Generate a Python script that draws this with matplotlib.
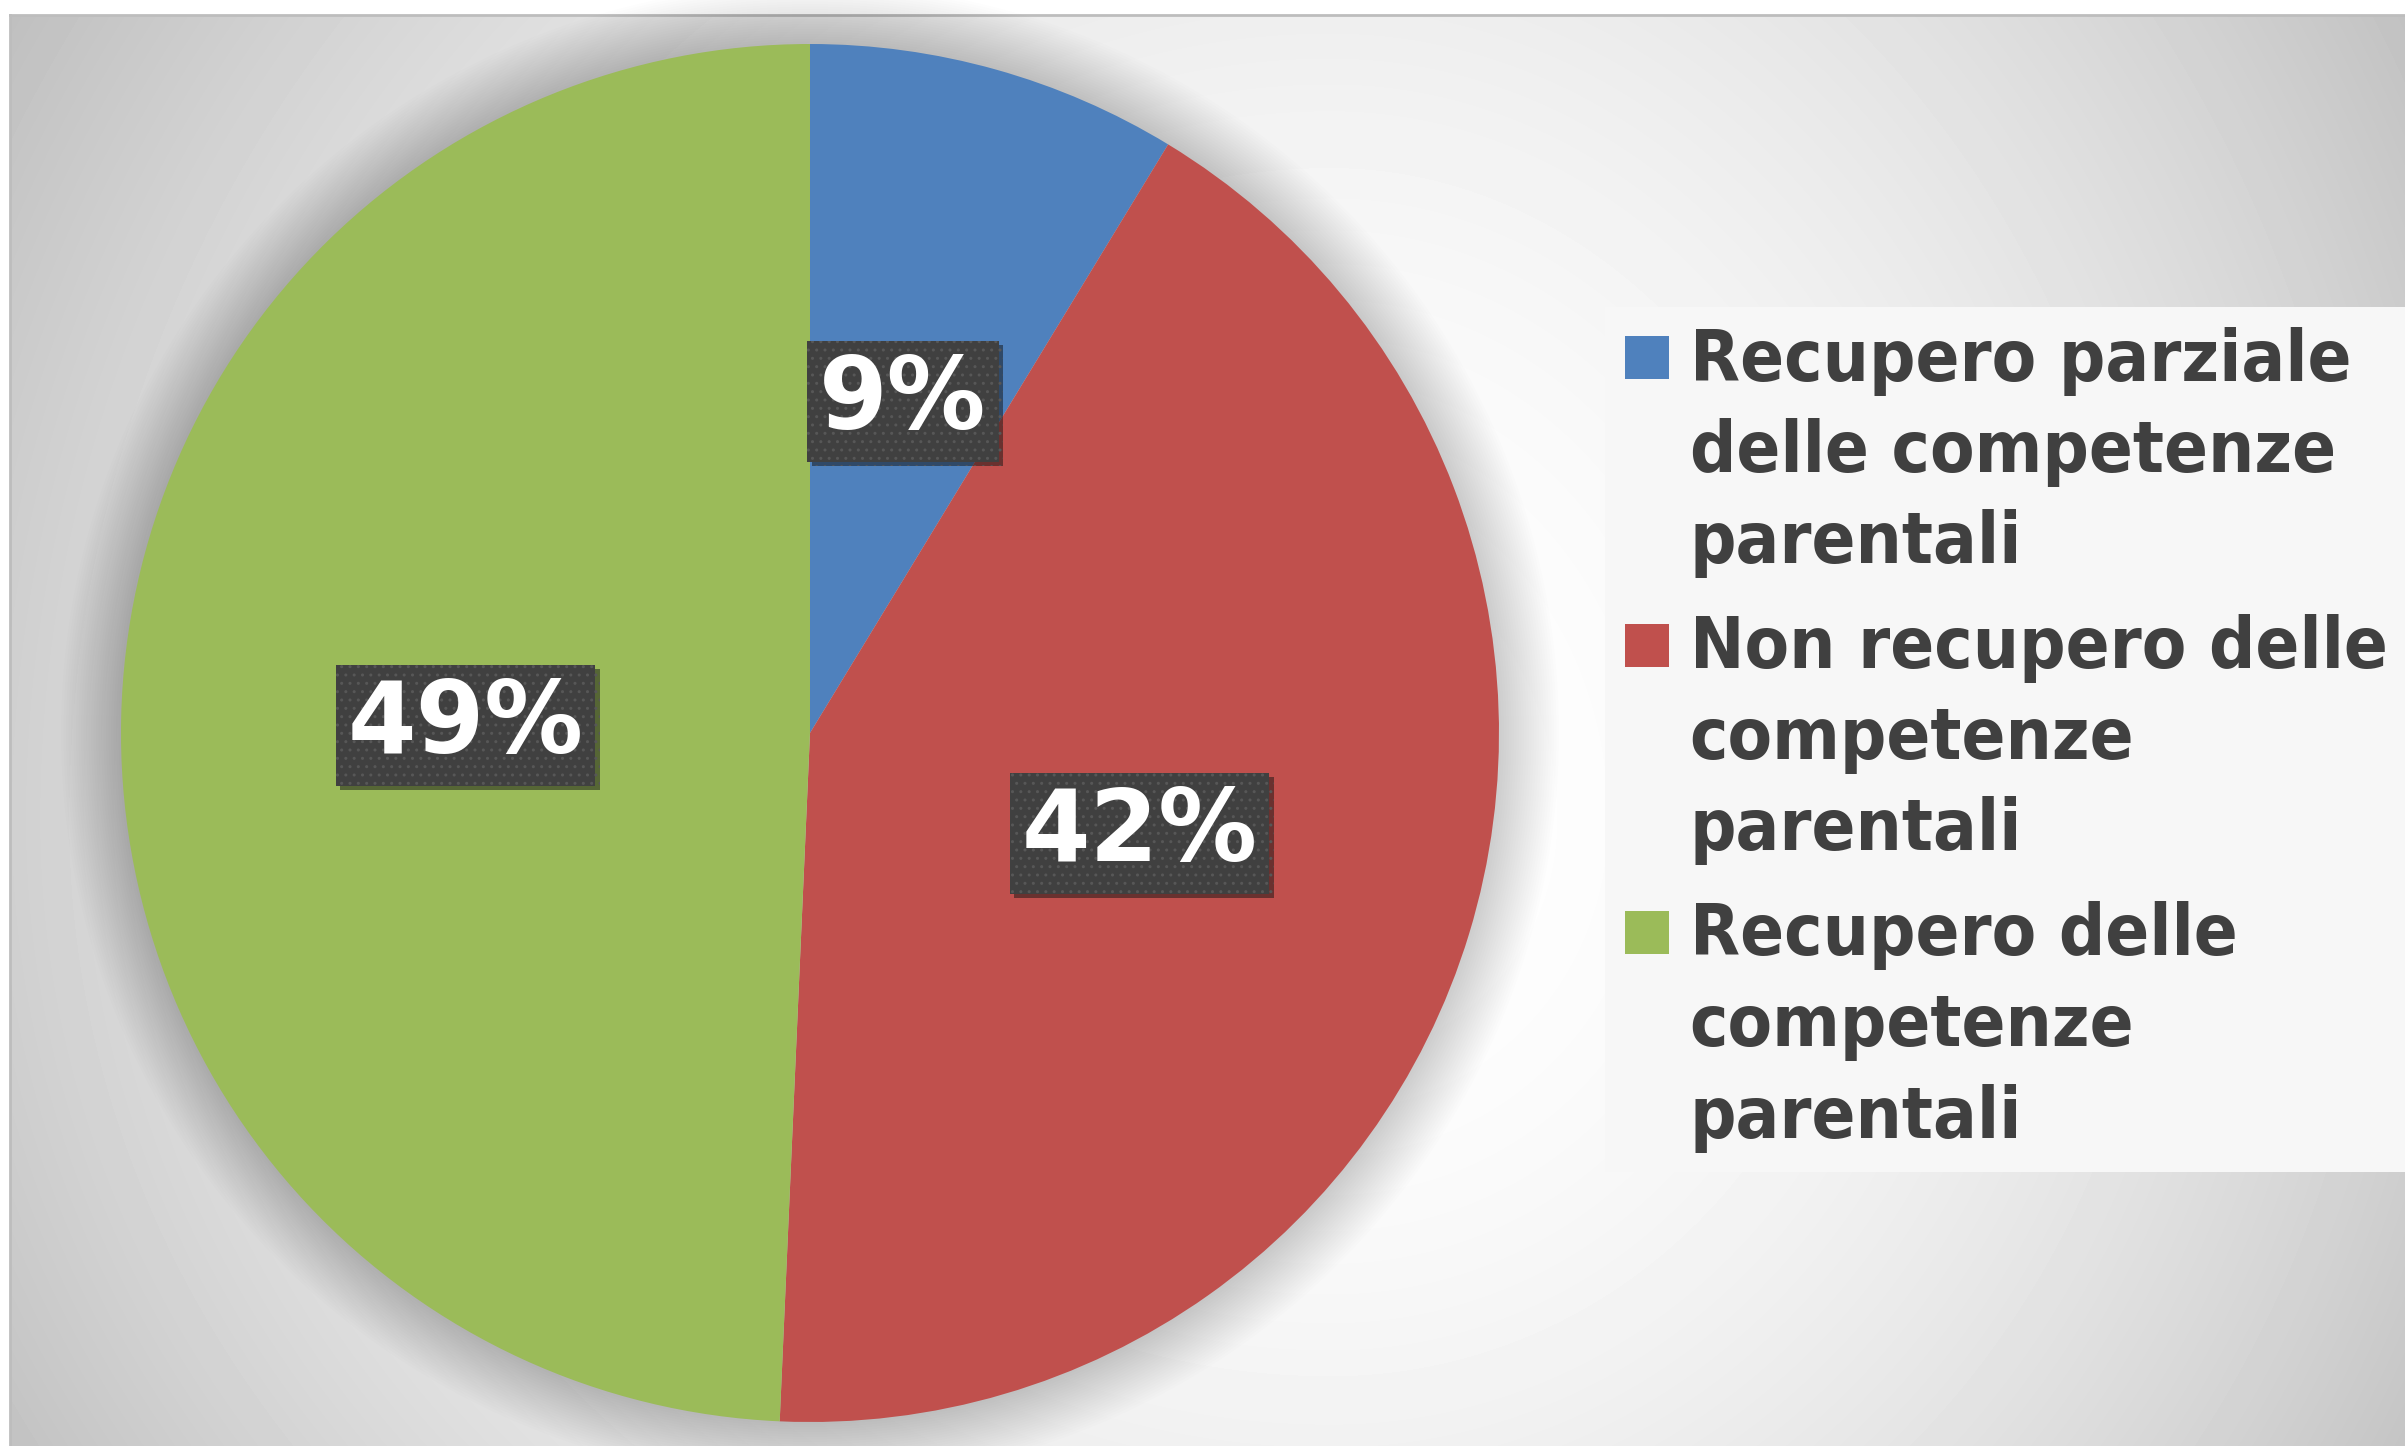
import matplotlib.pyplot as plt
import matplotlib.patheffects as pe
from matplotlib.patches import Circle, Rectangle
from matplotlib.legend_handler import HandlerPatch
from matplotlib.font_manager import FontProperties
import numpy as np

# data
categories = ['Recupero parziale\ndelle competenze\nparentali',
              'Non recupero delle\ncompetenze\nparentali',
              'Recupero delle\ncompetenze\nparentali']
shares = [8.7, 42.0, 49.3]
colors = ['#4f81bd', '#c0504d', '#9bbb59']

W, H = 2405, 1446
fig = plt.figure(figsize=(W / 100, H / 100), dpi=100)
fig.patch.set_facecolor('white')

# grey panel with a soft radial gradient
x0, y0 = 10, 15
bg = fig.add_axes([x0 / W, 0, 1 - x0 / W, 1 - y0 / H])
yy, xx = np.mgrid[y0:H, x0:W].astype(float)
gx, gy = 1330, 820
u = np.where(xx < gx, (xx - gx) / 1320, (xx - gx) / 1100)
v = np.where(yy < gy, (yy - gy) / 1350, (yy - gy) / 1150)
shade = np.clip(1 - 0.184 * (u ** 2 + v ** 2), 0.74, 1)
bg.imshow(shade, cmap='gray', vmin=0, vmax=1, aspect='auto', interpolation='bilinear')
bg.set_xticks([])
bg.set_yticks([])
for s in ['right', 'bottom']:
    bg.spines[s].set_visible(False)
for s in ['top', 'left']:
    bg.spines[s].set_color('#bdbdbd')
    bg.spines[s].set_linewidth(2)

# pie
r, cx, cy = 689, 810, 733
ax = fig.add_axes([(cx - r) / W, (H - cy - r) / H, 2 * r / W, 2 * r / H])
wedges, texts, autotexts = ax.pie(shares, colors=colors, startangle=90, counterclock=False,
                                  autopct='%.0f%%', pctdistance=0.5,
                                  wedgeprops=dict(linewidth=0))
ax.set_xlim(-1, 1)
ax.set_ylim(-1, 1)
ax.axis('off')

# soft shadow around the pie
for k in range(1, 25):
    ax.add_patch(Circle((0, 0), 1 + k * 2.5 / r, color='black', alpha=0.008, lw=0,
                        zorder=0, clip_on=False))

for t in autotexts:
    t.set_color('white')
    t.set_fontsize(71)
    t.set_fontweight('bold')
    t.set_bbox(dict(boxstyle='square,pad=0.12', fc='#404040', ec='#575757', lw=0, hatch='..'))
    t.get_bbox_patch().set_path_effects([pe.SimplePatchShadow(offset=(3, -3), alpha=0.5), pe.Normal()])


# legend square sits next to the first line of each label
def top_square(legend, orig_handle, xdescent, ydescent, width, height, fontsize):
    return Rectangle((-xdescent, -ydescent + 69), width, height)


leg_font = FontProperties(family='DejaVu Sans', stretch='condensed', weight='bold', size=52)
leg = fig.legend(wedges, categories, loc='upper left',
                 bbox_to_anchor=(1605 / W, 1 - 307 / H), bbox_transform=fig.transFigure,
                 frameon=True, fancybox=False, facecolor='#f7f7f7', edgecolor='none',
                 framealpha=1, prop=leg_font, labelcolor='#404040',
                 handlelength=0.62, handleheight=0.54, handletextpad=0.28,
                 labelspacing=0.5, borderpad=0.27, borderaxespad=0,
                 handler_map={w: HandlerPatch(patch_func=top_square) for w in wedges})
for t in leg.get_texts():
    t.set_linespacing(1.41)

fig.savefig('out.png', dpi=100)
